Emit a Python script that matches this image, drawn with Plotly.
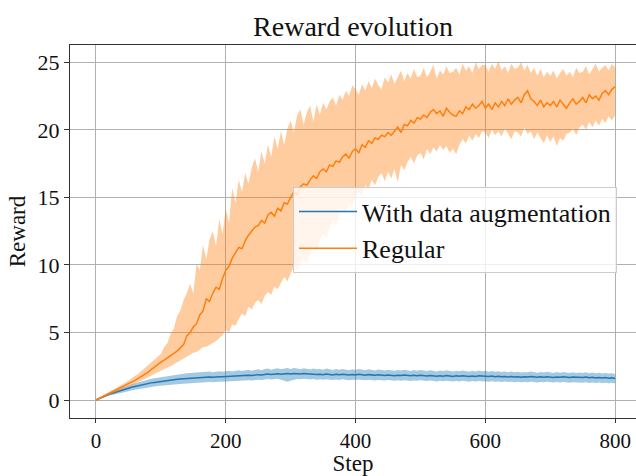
import plotly.graph_objects as go

# x sampled every 5 steps, 0..800
steps = list(range(0, 801, 5))

# Regular (orange)
orange_mean = [
    0.0, 0.12, 0.25, 0.36, 0.48, 0.58, 0.7, 0.82, 0.94, 1.06,
    1.2, 1.32, 1.45, 1.6, 1.74, 1.9, 2.05, 2.25, 2.45, 2.62,
    2.8, 2.95, 3.1, 3.28, 3.45, 3.62, 3.85, 4.1, 4.75, 5.0,
    5.4, 5.65, 6.3, 6.6, 7.5, 7.3, 7.9, 8.35, 8.2, 9.0,
    9.6, 9.9, 10.5, 10.9, 11.3, 11.2, 11.8, 12.2, 12.5, 12.8,
    12.9, 13.3, 13.1, 13.7, 13.9, 13.6, 14.2, 14.0, 14.6, 14.5,
    15.0, 15.4, 15.2, 15.8, 16.0, 15.9, 16.3, 16.6, 16.4, 16.9,
    17.1, 16.9, 17.4, 17.3, 17.7, 17.6, 18.0, 18.2, 17.9, 18.4,
    18.6, 18.3, 18.9, 18.7, 19.2, 19.0, 19.4, 19.3, 19.6, 19.5,
    19.8, 19.6, 19.9, 20.2, 19.8, 20.4, 20.3, 20.7, 20.5, 20.9,
    20.8, 21.1, 20.9, 21.3, 21.5, 21.2, 21.4, 21.0, 21.6, 21.3,
    21.1, 21.0, 21.4, 21.2, 21.7, 21.5, 21.9, 21.6, 21.8, 22.1,
    21.6, 21.9, 21.5, 22.0, 21.7, 22.1, 21.8, 22.3, 21.9, 22.2,
    22.4, 22.0, 22.6, 22.9, 22.3, 22.1, 21.8, 22.2, 21.7, 22.0,
    21.8, 22.1, 21.7, 22.2, 21.9, 21.6, 22.0, 22.3, 21.9, 22.1,
    22.4, 22.0, 22.6, 22.3, 22.5, 22.2, 22.7, 22.9, 22.6, 23.0,
    23.2,
]
orange_upper = [
    0.05, 0.18, 0.32, 0.45, 0.58, 0.7, 0.84, 0.98, 1.12, 1.28,
    1.45, 1.6, 1.78, 1.95, 2.15, 2.35, 2.55, 2.8, 3.0, 3.15,
    3.4, 3.9, 4.2, 4.9, 5.3, 6.2, 6.6, 7.4, 7.9, 8.6,
    7.9, 10.1, 9.6, 11.5, 10.4, 11.9, 12.5, 11.4, 13.4, 12.3,
    14.2, 13.1, 15.7, 14.6, 16.3, 15.4, 16.8, 16.0, 17.2, 17.9,
    16.9, 18.4, 17.5, 18.9, 18.0, 19.5, 18.6, 19.9, 18.9, 20.1,
    20.7, 19.8, 21.1, 21.5, 20.4, 21.3, 21.8, 20.6, 21.9, 21.1,
    22.0, 21.5, 22.1, 22.4, 21.8, 22.6, 22.2, 22.9, 22.5, 23.3,
    23.0, 22.6, 23.4, 22.9, 23.6, 23.1, 23.8, 23.3, 23.0, 23.9,
    23.5, 24.1, 23.4, 23.9, 24.4, 23.6, 24.2, 23.8, 24.5, 23.9,
    24.0, 24.6, 23.9, 24.3, 24.8, 23.8, 24.4, 24.1, 24.7, 24.2,
    24.3, 24.6, 24.1, 24.9, 24.4, 24.7, 24.2, 25.0, 24.5, 24.8,
    24.8, 24.3, 24.9, 24.5, 25.1, 24.4, 24.7, 24.2, 24.9, 24.5,
    24.6, 25.0, 24.4, 24.8, 24.2, 24.6, 24.0, 24.5, 23.9, 24.3,
    24.0, 24.4, 23.8, 24.2, 24.5, 24.0, 24.3, 23.9, 24.6, 24.2,
    24.3, 24.7, 24.1, 24.5, 24.9, 24.3, 24.6, 24.8, 24.4, 24.9,
    24.6,
]
orange_lower = [
    0.0, 0.08, 0.18, 0.27, 0.37, 0.46, 0.56, 0.66, 0.76, 0.87,
    0.98, 1.08, 1.18, 1.3, 1.42, 1.55, 1.65, 1.8, 1.92, 2.05,
    2.15, 2.3, 2.4, 2.5, 2.65, 2.75, 2.9, 3.05, 3.2, 3.35,
    3.5, 3.55, 3.75, 3.9, 3.95, 4.1, 4.25, 4.35, 4.6, 4.8,
    5.2, 5.0, 5.6, 5.5, 6.0, 6.4, 6.2, 6.9, 6.7, 7.2,
    7.4, 7.1, 7.7, 8.0, 7.8, 8.4, 8.2, 8.7, 9.1, 8.8,
    9.4, 9.9, 9.6, 10.2, 10.4, 10.1, 10.9, 11.4, 11.0, 11.8,
    12.3, 12.0, 12.8, 13.3, 12.9, 13.7, 14.1, 13.8, 14.6, 14.3,
    15.0, 15.4, 15.1, 15.9, 15.6, 16.3, 15.9, 16.5, 16.8, 16.2,
    16.9, 16.4, 17.1, 16.1, 17.4, 17.0, 17.6, 18.0, 17.5, 18.1,
    18.3, 17.8, 18.6, 18.2, 18.7, 18.4, 18.9, 18.5, 18.8, 18.3,
    18.6, 18.2, 18.9, 19.3, 19.0, 19.6, 19.2, 19.7, 19.4, 19.9,
    19.8, 19.4, 20.0, 19.6, 19.9, 19.5, 20.1, 19.7, 19.3, 19.9,
    19.8, 19.5, 20.2, 19.7, 19.9, 19.3, 19.8, 19.4, 19.0, 19.6,
    19.1, 19.5, 18.8, 19.4, 19.2, 19.7, 19.8, 20.1, 19.6, 20.2,
    20.4, 20.0, 20.6, 20.2, 20.7, 20.3, 20.8, 20.5, 21.0, 20.7,
    21.1,
]

# With data augmentation (blue)
blue_mean = [
    0.0, 0.12, 0.23, 0.33, 0.42, 0.5, 0.58, 0.66, 0.73, 0.8,
    0.88, 0.94, 1.0, 1.06, 1.12, 1.17, 1.22, 1.27, 1.3, 1.34,
    1.38, 1.42, 1.45, 1.48, 1.5, 1.53, 1.55, 1.57, 1.6, 1.61,
    1.62, 1.64, 1.65, 1.67, 1.68, 1.7, 1.69, 1.72, 1.73, 1.72,
    1.74, 1.76, 1.75, 1.78, 1.8, 1.79, 1.82, 1.84, 1.81, 1.85,
    1.88, 1.86, 1.9, 1.92, 1.89, 1.93, 1.95, 1.91, 1.94, 1.96,
    1.93, 1.97, 1.95, 1.92, 1.96, 1.94, 1.9, 1.93, 1.89, 1.91,
    1.88, 1.92, 1.89, 1.86, 1.9, 1.87, 1.91, 1.88, 1.85, 1.89,
    1.86, 1.9, 1.87, 1.84, 1.88, 1.85, 1.83, 1.87, 1.84, 1.82,
    1.86, 1.83, 1.8, 1.84, 1.81, 1.85, 1.82, 1.79, 1.83, 1.8,
    1.84, 1.81, 1.78, 1.82, 1.79, 1.76, 1.8, 1.77, 1.81, 1.78,
    1.75, 1.79, 1.76, 1.8, 1.77, 1.74, 1.78, 1.75, 1.79, 1.76,
    1.78, 1.74, 1.77, 1.73, 1.76, 1.72, 1.75, 1.71, 1.74, 1.7,
    1.73, 1.69, 1.72, 1.7, 1.74, 1.71, 1.68, 1.72, 1.69, 1.73,
    1.7, 1.67, 1.71, 1.68, 1.72, 1.69, 1.66, 1.7, 1.67, 1.69,
    1.66, 1.7, 1.65, 1.68, 1.64, 1.67, 1.63, 1.66, 1.62, 1.64,
    1.6,
]
blue_upper = [
    0.02, 0.16, 0.29, 0.41, 0.52, 0.62, 0.72, 0.82, 0.91, 0.99,
    1.08, 1.16, 1.24, 1.31, 1.38, 1.45, 1.51, 1.57, 1.61, 1.66,
    1.7, 1.76, 1.8, 1.83, 1.86, 1.9, 1.93, 1.95, 1.99, 2.0,
    2.02, 2.05, 2.04, 2.08, 2.07, 2.11, 2.06, 2.12, 2.13, 2.09,
    2.12, 2.16, 2.11, 2.18, 2.2, 2.15, 2.22, 2.25, 2.17, 2.24,
    2.27, 2.21, 2.3, 2.33, 2.25, 2.32, 2.36, 2.28, 2.33, 2.38,
    2.3, 2.37, 2.33, 2.28, 2.36, 2.31, 2.26, 2.34, 2.27, 2.3,
    2.25, 2.33, 2.27, 2.22, 2.29, 2.24, 2.3, 2.26, 2.21, 2.28,
    2.23, 2.3, 2.25, 2.2, 2.27, 2.22, 2.19, 2.26, 2.21, 2.18,
    2.24, 2.2, 2.16, 2.23, 2.18, 2.24, 2.2, 2.15, 2.22, 2.17,
    2.23, 2.18, 2.14, 2.2, 2.16, 2.12, 2.18, 2.14, 2.2, 2.15,
    2.11, 2.17, 2.13, 2.19, 2.14, 2.1, 2.16, 2.12, 2.18, 2.13,
    2.16, 2.1, 2.14, 2.09, 2.13, 2.08, 2.12, 2.06, 2.11, 2.05,
    2.1, 2.04, 2.08, 2.05, 2.11, 2.06, 2.02, 2.08, 2.03, 2.09,
    2.05, 2.01, 2.07, 2.02, 2.08, 2.04, 2.0, 2.06, 2.01, 2.04,
    2.0, 2.06, 1.99, 2.03, 1.98, 2.02, 1.97, 2.01, 1.96, 1.99,
    1.93,
]
blue_lower = [
    -0.02, 0.08, 0.17, 0.25, 0.32, 0.38, 0.44, 0.5, 0.55, 0.6,
    0.66, 0.71, 0.76, 0.8, 0.85, 0.89, 0.93, 0.97, 1.0, 1.03,
    1.06, 1.09, 1.11, 1.14, 1.15, 1.18, 1.19, 1.21, 1.23, 1.24,
    1.25, 1.27, 1.28, 1.3, 1.31, 1.33, 1.32, 1.35, 1.36, 1.35,
    1.37, 1.39, 1.38, 1.41, 1.43, 1.42, 1.45, 1.47, 1.44, 1.48,
    1.51, 1.49, 1.53, 1.55, 1.52, 1.56, 1.58, 1.5, 1.4, 1.35,
    1.42, 1.5, 1.56, 1.53, 1.58, 1.56, 1.52, 1.55, 1.5, 1.53,
    1.5, 1.54, 1.51, 1.48, 1.52, 1.49, 1.53, 1.5, 1.47, 1.51,
    1.48, 1.52, 1.49, 1.46, 1.5, 1.47, 1.45, 1.49, 1.46, 1.44,
    1.48, 1.45, 1.42, 1.46, 1.43, 1.47, 1.44, 1.41, 1.45, 1.42,
    1.46, 1.43, 1.4, 1.44, 1.41, 1.38, 1.42, 1.39, 1.43, 1.4,
    1.37, 1.41, 1.38, 1.42, 1.39, 1.36, 1.4, 1.37, 1.41, 1.38,
    1.4, 1.36, 1.39, 1.35, 1.38, 1.34, 1.37, 1.33, 1.36, 1.32,
    1.35, 1.31, 1.34, 1.32, 1.36, 1.33, 1.3, 1.34, 1.31, 1.35,
    1.32, 1.29, 1.33, 1.3, 1.34, 1.31, 1.28, 1.32, 1.29, 1.31,
    1.28, 1.32, 1.27, 1.3, 1.26, 1.29, 1.25, 1.28, 1.24, 1.26,
    1.24,
]

x_ticks = [0, 200, 400, 600, 800]
y_ticks = [0, 5, 10, 15, 20, 25]

BLUE = "#1f77b4"
ORANGE = "#ff7f0e"
FONT = "Liberation Serif"

fig = go.Figure()

# blue band + line
fig.add_trace(go.Scatter(x=steps, y=blue_lower, mode="lines", line=dict(width=0),
                         showlegend=False, hoverinfo="skip"))
fig.add_trace(go.Scatter(x=steps, y=blue_upper, mode="lines", line=dict(width=0),
                         fill="tonexty", fillcolor="rgba(31,119,180,0.4)",
                         showlegend=False, hoverinfo="skip"))
fig.add_trace(go.Scatter(x=steps, y=blue_mean, mode="lines", name="With data augmentation",
                         line=dict(color=BLUE, width=1.5)))
# orange band + line
fig.add_trace(go.Scatter(x=steps, y=orange_lower, mode="lines", line=dict(width=0),
                         showlegend=False, hoverinfo="skip"))
fig.add_trace(go.Scatter(x=steps, y=orange_upper, mode="lines", line=dict(width=0),
                         fill="tonexty", fillcolor="rgba(255,127,14,0.4)",
                         showlegend=False, hoverinfo="skip"))
fig.add_trace(go.Scatter(x=steps, y=orange_mean, mode="lines", name="Regular",
                         line=dict(color=ORANGE, width=1.5)))

fig.update_layout(
    width=636, height=476,
    margin=dict(l=70, r=0, t=45, b=58),
    paper_bgcolor="white", plot_bgcolor="white",
    font=dict(family=FONT, size=21, color="#111"),
    title=dict(text="Reward evolution", x=0.5, xref="paper", y=0.945, yref="container",
               yanchor="middle", xanchor="center", font=dict(family=FONT, size=28, color="#111")),
    xaxis=dict(range=[-40, 832.1], tickvals=x_ticks, showgrid=True, gridcolor="#b0b0b0",
               gridwidth=1, zeroline=False, showline=True, linecolor="#333", linewidth=1.3,
               mirror=True, ticks="outside", ticklen=4, tickcolor="#333",
               title=dict(text="Step", standoff=3, font=dict(size=23)), tickfont=dict(size=21)),
    yaxis=dict(range=[-1.33, 26.28], tickvals=y_ticks, showgrid=True, gridcolor="#b0b0b0",
               gridwidth=1, zeroline=False, showline=True, linecolor="#333", linewidth=1.3,
               mirror=False, ticks="outside", ticklen=5, tickcolor="#333",
               title=dict(text="Reward", standoff=5, font=dict(size=23)), tickfont=dict(size=22)),
    legend=dict(x=0.394, y=0.619, xanchor="left", yanchor="top", traceorder="normal",
                bgcolor="rgba(255,255,255,0.8)", bordercolor="#cccccc", borderwidth=1,
                itemwidth=58, font=dict(family=FONT, size=26)),
    showlegend=True,
)

fig.write_html("out.html")
